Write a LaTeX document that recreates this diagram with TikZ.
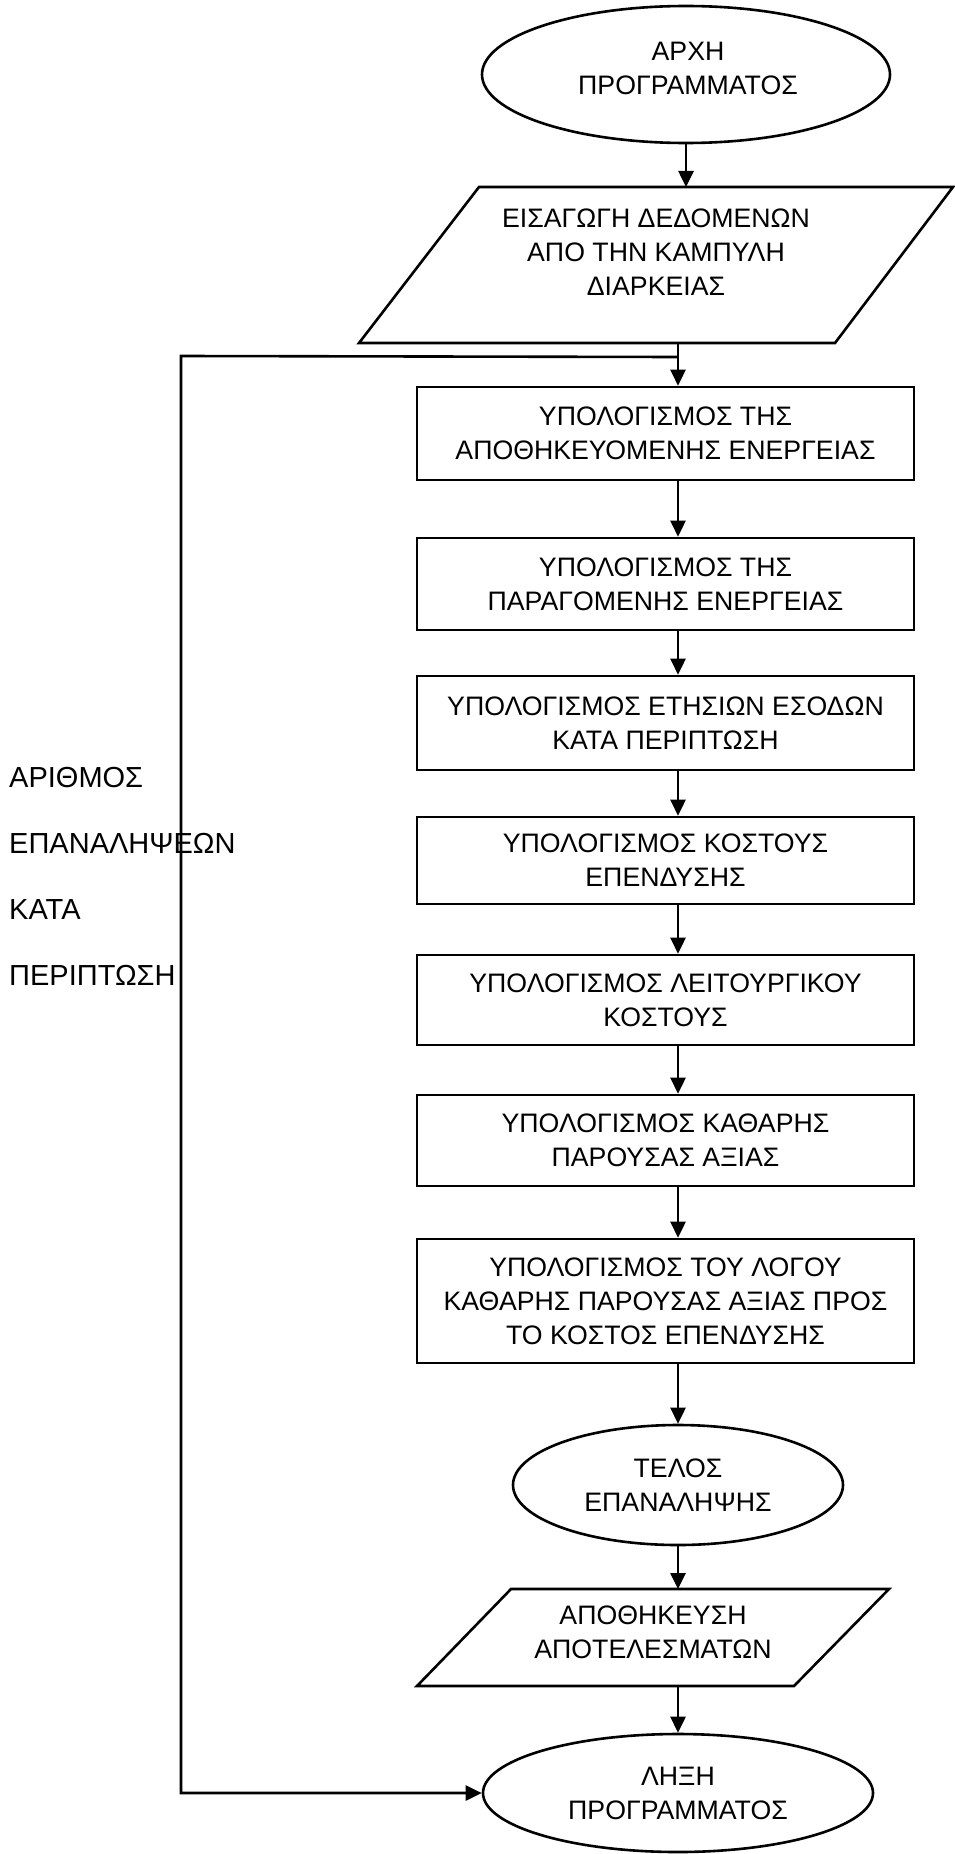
\documentclass[tikz,border=0pt]{standalone}
\usepackage{fontspec}
\setmainfont{Liberation Sans}
\usetikzlibrary{shapes.geometric,arrows.meta}

\begin{document}
\begin{tikzpicture}[x=1pt,y=-1pt,
  every node/.style={font=\fontsize{26.7}{34}\selectfont, align=center},
  outline/.style={line width=2.6pt, line join=miter},
  flow/.style={line width=2.6pt, -{Triangle[length=16pt,width=15pt]}},
  procbox/.style={draw, line width=2.6pt, minimum width=497pt, inner sep=0pt},
  terminal/.style={draw, ellipse, line width=2.6pt, inner sep=0pt},
]
\useasboundingbox[fill=white] (0,0) rectangle (954,1854);

% start of the program
\node[terminal, minimum width=408pt, minimum height=137pt] (e1) at (686,74.5) {};
\node (e1text) at (688,68) {ΑΡΧΗ\\ΠΡΟΓΡΑΜΜΑΤΟΣ};

% data input
\draw[outline] (479,187) -- (953,187) -- (835,343) -- (359,343) -- cycle;
\node (p1) at (656,252) {ΕΙΣΑΓΩΓΗ ΔΕΔΟΜΕΝΩΝ\\ΑΠΟ ΤΗΝ ΚΑΜΠΥΛΗ\\ΔΙΑΡΚΕΙΑΣ};
\coordinate (p1top) at (686,187);
\coordinate (p1bot) at (678,343);
\coordinate (join) at (678,357);

% calculation steps
\node[procbox, minimum height=93pt] (b1) at (665.5,433.5) {ΥΠΟΛΟΓΙΣΜΟΣ ΤΗΣ\\ΑΠΟΘΗΚΕΥΟΜΕΝΗΣ ΕΝΕΡΓΕΙΑΣ};
\node[procbox, minimum height=92pt] (b2) at (665.5,584) {ΥΠΟΛΟΓΙΣΜΟΣ ΤΗΣ\\ΠΑΡΑΓΟΜΕΝΗΣ ΕΝΕΡΓΕΙΑΣ};
\node[procbox, minimum height=94pt] (b3) at (665.5,723) {ΥΠΟΛΟΓΙΣΜΟΣ ΕΤΗΣΙΩΝ ΕΣΟΔΩΝ\\ΚΑΤΑ ΠΕΡΙΠΤΩΣΗ};
\node[procbox, minimum height=87pt] (b4) at (665.5,860.5) {ΥΠΟΛΟΓΙΣΜΟΣ ΚΟΣΤΟΥΣ\\ΕΠΕΝΔΥΣΗΣ};
\node[procbox, minimum height=90pt] (b5) at (665.5,1000) {ΥΠΟΛΟΓΙΣΜΟΣ ΛΕΙΤΟΥΡΓΙΚΟΥ\\ΚΟΣΤΟΥΣ};
\node[procbox, minimum height=91pt] (b6) at (665.5,1140.5) {ΥΠΟΛΟΓΙΣΜΟΣ ΚΑΘΑΡΗΣ\\ΠΑΡΟΥΣΑΣ ΑΞΙΑΣ};
\node[procbox, minimum height=124pt] (b7) at (665.5,1301) {ΥΠΟΛΟΓΙΣΜΟΣ ΤΟΥ ΛΟΓΟΥ\\ΚΑΘΑΡΗΣ ΠΑΡΟΥΣΑΣ ΑΞΙΑΣ ΠΡΟΣ\\ΤΟ ΚΟΣΤΟΣ ΕΠΕΝΔΥΣΗΣ};

\node[terminal, minimum width=330pt, minimum height=120pt] (e2) at (678,1485) {ΤΕΛΟΣ\\ΕΠΑΝΑΛΗΨΗΣ};

% saving the results
\draw[outline] (511,1589) -- (889,1589) -- (794,1686) -- (417,1686) -- cycle;
\node (p2) at (653,1632) {ΑΠΟΘΗΚΕΥΣΗ\\ΑΠΟΤΕΛΕΣΜΑΤΩΝ};
\coordinate (p2top) at (678,1589);
\coordinate (p2bot) at (678,1686);

% end of the program
\node[terminal, minimum width=390pt, minimum height=118pt] (e3) at (678,1793) {ΛΗΞΗ\\ΠΡΟΓΡΑΜΜΑΤΟΣ};

% loop label
\node[anchor=west, align=left, inner sep=0pt, font=\fontsize{29}{66}\selectfont] (count) at (9,876) {ΑΡΙΘΜΟΣ\\ΕΠΑΝΑΛΗΨΕΩΝ\\ΚΑΤΑ\\ΠΕΡΙΠΤΩΣΗ};

% main flow
\draw[flow] (e1.south) -- (p1top);
\draw[flow] (p1bot) -- (b1.north -| p1bot);
\draw[flow] (b1.south -| p1bot) -- (b2.north -| p1bot);
\draw[flow] (b2.south -| p1bot) -- (b3.north -| p1bot);
\draw[flow] (b3.south -| p1bot) -- (b4.north -| p1bot);
\draw[flow] (b4.south -| p1bot) -- (b5.north -| p1bot);
\draw[flow] (b5.south -| p1bot) -- (b6.north -| p1bot);
\draw[flow] (b6.south -| p1bot) -- (b7.north -| p1bot);
\draw[flow] (b7.south -| p1bot) -- (e2.north);
\draw[flow] (e2.south) -- (p2top);
\draw[flow] (p2bot) -- (e3.north);

% loop line
\coordinate (looptop) at (181,356);
\draw[flow] (join) -- (looptop) -- (looptop |- e3.west) -- (e3.west);
\end{tikzpicture}
\end{document}
